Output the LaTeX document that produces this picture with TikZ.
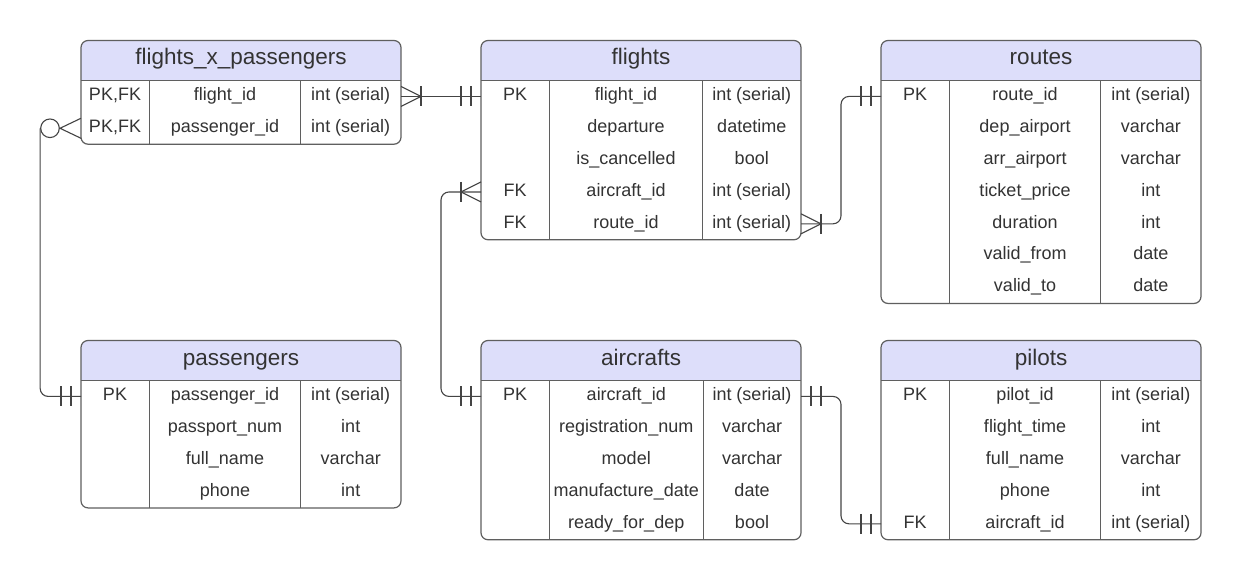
\documentclass[tikz,border=0pt]{standalone}
\usepackage{fontspec}
\setmainfont{Liberation Sans}
\definecolor{hdr}{RGB}{221,222,250}
\definecolor{txt}{RGB}{51,51,51}
\definecolor{framec}{RGB}{95,95,95}
\definecolor{lnk}{RGB}{68,68,68}
\tikzset{
 tabframe/.style={draw=framec, line width=1.2pt, rounded corners=7pt, inner sep=0pt, outer sep=0pt, minimum width=320pt, anchor=north west},
 tabline/.style={draw=framec, line width=1pt},
 titletext/.style={text=txt, font=\fontsize{22.5}{25}\selectfont, anchor=base, inner sep=0pt},
 celltext/.style={text=txt, font=\fontsize{18}{21}\selectfont, anchor=base, inner sep=0pt},
 conn/.style={draw=lnk, line width=1.1pt},
 zerocirc/.style={circle, draw=lnk, line width=1.1pt, fill=white, minimum size=18.6pt, inner sep=0pt},
}
\newcommand{\erdtable}[7]{%
\begin{scope}[shift={(#2,#3)}]
 \pgfmathsetmacro\erdH{40+31.85*#4}
 \pgfmathsetmacro\erdCb{(68.5+#5)/2}
 \pgfmathsetmacro\erdCc{(#5+320)/2}
 \begin{scope}
  \clip[rounded corners=7pt] (0,0) rectangle (320,\erdH);
  \fill[hdr] (0,0) rectangle (320,40);
 \end{scope}
 \node[tabframe, minimum height=\erdH pt] (#1) at (0,0) {};
 \draw[tabline] (0,40) -- (320,40);
 \draw[tabline] (68.5,40) -- (68.5,\erdH);
 \draw[tabline] (#5,40) -- (#5,\erdH);
 \node[titletext] (#1-title) at (160,24.5) {#6};
 \foreach \k/\n/\t [count=\i] in {#7} {
   \pgfmathsetmacro\erdY{40+31.85*(\i-0.5)}
   \node[celltext] (#1-k\i) at (34,\erdY+4.3) {\k};
   \node[celltext] (#1-n\i) at (\erdCb,\erdY+4.3) {\n};
   \node[celltext] (#1-t\i) at (\erdCc,\erdY+4.3) {\t};
   \coordinate (#1-w\i) at (0,\erdY);
   \coordinate (#1-e\i) at (320,\erdY);
 }
\end{scope}}
\newcommand{\erdmany}[2]{%
 \draw[conn] ([yshift=10pt]#1) -- ([xshift=#2*20pt]#1) -- ([yshift=-10pt]#1);
 \draw[conn] ([xshift=#2*20pt,yshift=10pt]#1) -- ([xshift=#2*20pt,yshift=-10pt]#1);}
\newcommand{\erdone}[2]{%
 \draw[conn] ([xshift=#2*20pt,yshift=10pt]#1) -- ([xshift=#2*20pt,yshift=-10pt]#1);
 \draw[conn] ([xshift=#2*10pt,yshift=10pt]#1) -- ([xshift=#2*10pt,yshift=-10pt]#1);}
\begin{document}
\begin{tikzpicture}[x=1pt,y=-1pt]
\fill[white] (0,0) rectangle (1241,580);
\useasboundingbox (0,0) rectangle (1241,580);

\erdtable{fxp}{81}{40.5}{2}{219.5}{flights\_x\_passengers}{{PK,FK}/flight\_id/int (serial),{PK,FK}/passenger\_id/int (serial)}
\erdtable{flights}{481}{40.5}{5}{221.5}{flights}{PK/flight\_id/int (serial),/departure/datetime,/is\_cancelled/bool,FK/aircraft\_id/int (serial),FK/route\_id/int (serial)}
\erdtable{routes}{881}{40.5}{7}{219.5}{routes}{PK/route\_id/int (serial),/dep\_airport/varchar,/arr\_airport/varchar,/ticket\_price/int,/duration/int,/valid\_from/date,/valid\_to/date}
\erdtable{passengers}{81}{340.5}{4}{219.5}{passengers}{PK/passenger\_id/int (serial),/passport\_num/int,/full\_name/varchar,/phone/int}
\erdtable{aircrafts}{481}{340.5}{5}{222}{aircrafts}{PK/aircraft\_id/int (serial),/registration\_num/varchar,/model/varchar,/manufacture\_date/date,/ready\_for\_dep/bool}
\erdtable{pilots}{881}{340.5}{5}{219.5}{pilots}{PK/pilot\_id/int (serial),/flight\_time/int,/full\_name/varchar,/phone/int,FK/aircraft\_id/int (serial)}

% flights_x_passengers -> flights
\draw[conn] (fxp-e1) -- (flights-w1);
\erdmany{fxp-e1}{1}
\erdone{flights-w1}{-1}

% flights -> routes
\draw[conn, rounded corners=8pt] (flights-e5) -| ([xshift=-40pt]routes-w1) -- (routes-w1);
\erdmany{flights-e5}{1}
\erdone{routes-w1}{-1}

% flights -> aircrafts
\draw[conn, rounded corners=8pt] (flights-w4) -- ([xshift=-40pt]flights-w4) |- (aircrafts-w1);
\erdmany{flights-w4}{-1}
\erdone{aircrafts-w1}{-1}

% flights_x_passengers -> passengers
\node[zerocirc] (zm) at ([xshift=-31pt]fxp-w2) {};
\draw[conn] ([yshift=10pt]fxp-w2) -- ([xshift=-21pt]fxp-w2) -- ([yshift=-10pt]fxp-w2);
\draw[conn, rounded corners=8pt] (zm.west) |- (passengers-w1);
\erdone{passengers-w1}{-1}

% aircrafts -> pilots
\draw[conn, rounded corners=8pt] (aircrafts-e1) -| ([xshift=-40pt]pilots-w5) -- (pilots-w5);
\erdone{aircrafts-e1}{1}
\erdone{pilots-w5}{-1}
\end{tikzpicture}
\end{document}
